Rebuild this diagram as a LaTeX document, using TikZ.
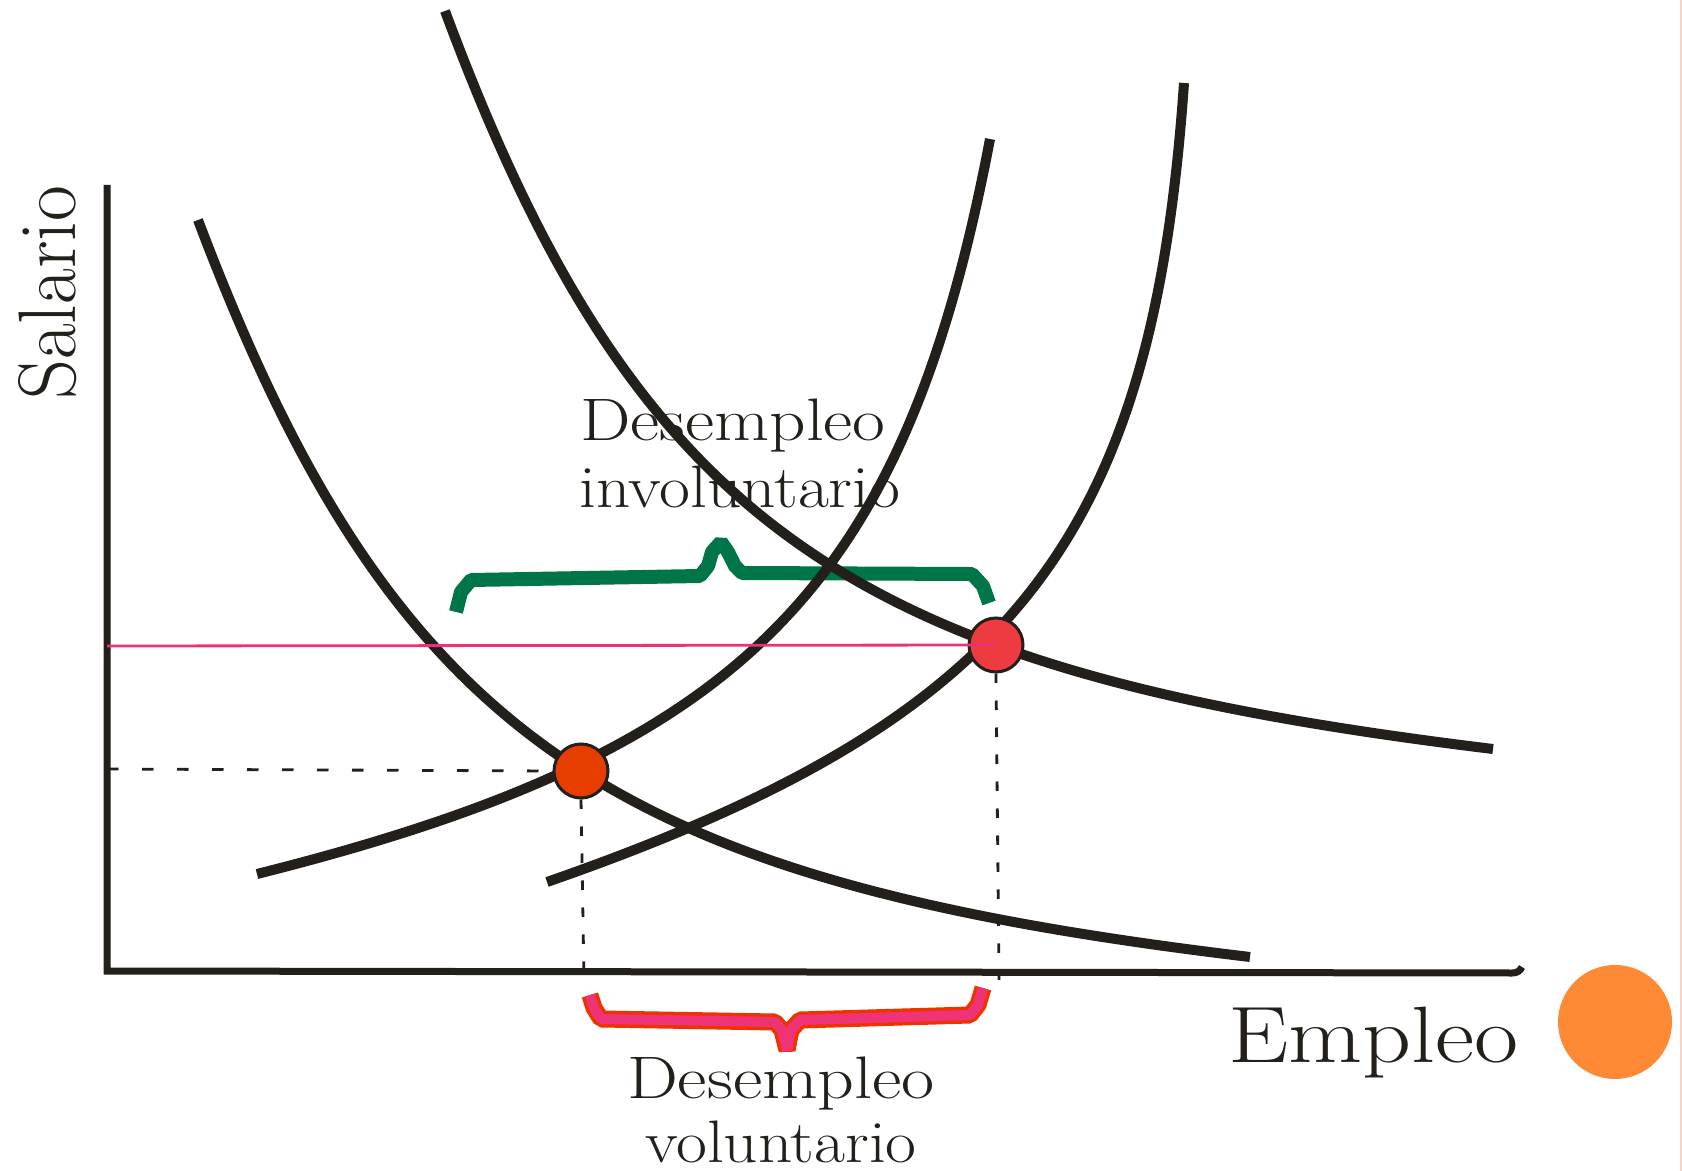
\documentclass[tikz,border=0pt]{standalone}
\usepackage{fontspec}
\usepackage{graphicx}
\definecolor{ink}{HTML}{231F1B}
\definecolor{gbr}{HTML}{007548}
\definecolor{rout}{HTML}{EE3300}
\definecolor{rin}{HTML}{EE3377}
\definecolor{pinkln}{HTML}{E8337A}
\definecolor{dotone}{HTML}{E83D00}
\definecolor{dottwo}{HTML}{EE3B42}
\definecolor{orng}{HTML}{FF8A36}
\definecolor{edge}{HTML}{F5D3CC}
\newcommand{\lblfont}{\addfontfeatures{FakeBold=0.4}}
\begin{document}
\begin{tikzpicture}[x=0.5pt,y=-0.5pt,
  crv/.style={draw=ink, line width=5pt},
  axisln/.style={draw=ink, line width=3.5pt},
  dshh/.style={draw=ink, line width=1.4pt, dash pattern=on 5.75pt off 11.75pt},
  dshv/.style={draw=ink, line width=1.4pt, dash pattern=on 4.75pt off 8.75pt},
  eqdot/.style={circle, draw=ink, line width=1.5pt, minimum size=27pt, inner sep=0pt},
  gbrace/.style={draw=gbr, line width=7pt, line join=bevel},
  rbrace/.style={draw=rin, line width=5pt, line join=bevel, preaction={draw=rout, line width=8.5pt, line join=bevel}},
  lbl/.style={inner sep=0pt, text=ink},
]
\useasboundingbox (0,0) rectangle (1682,1171);
\fill[white] (0,0) rectangle (1682,1171);
\draw[edge, line width=1pt] (1681,0) -- (1681,1171);

% braces (under curves)
\draw[gbrace] (456,612) -- (461,592) -- (471,580) -- (700,576) -- (708,566) -- (712,552) -- (721,542) -- (728,552) -- (735,566) -- (742,573) -- (972,574) -- (983,586) -- (989,603);
\draw[rbrace] (590,995) -- (594,1008) -- (601,1019) -- (775,1022) -- (782,1030) -- (787,1050) -- (791,1030) -- (800,1020) -- (970,1015) -- (978,1005) -- (983,988);

% axes
\coordinate (ytop) at (107,185);
\coordinate (orig) at (107,971);
\coordinate (xend) at (1522,967);
\draw[axisln] (ytop) -- (orig) -- (1512,973) .. controls (1517,973) and (1520,971) .. (xend);

% curves: two demand, two supply
\draw[crv] (198,220) .. controls (396,744) and (614,881) .. (1250,957);
\draw[crv] (445,11) .. controls (641,538) and (861,672) .. (1493,749);
\draw[crv] (257,874) .. controls (743,752) and (904,591) .. (990,139);
\draw[crv] (547,882) .. controls (1012,720) and (1152,544) .. (1184,83);

% equilibrium dots
\node[eqdot, fill=dotone] (e1) at (581,771) {};
\node[eqdot, fill=dottwo] (e2) at (996,645) {};

% guide lines
\coordinate (wlow) at (107,769);
\coordinate (whigh) at (107,646);
\coordinate (q1) at (584,980);
\coordinate (q2) at (999,980);
\draw[dshh] (wlow) -- (e1.west);
\draw[dshv] (e1.south) -- (q1);
\draw[dshv] (e2.south) -- (q2);
\draw[draw=pinkln, line width=1.4pt] (whigh) -- (e2.center);

% labels
\node[lbl, anchor=base west] (inv1) at (580,441) {\fontsize{30pt}{33pt}\selectfont\lblfont\scalebox{1.19}[1]{Desempleo}};
\node[lbl, anchor=base west] (inv2) at (579,508) {\fontsize{30pt}{33pt}\selectfont\lblfont\scalebox{1.12}[1]{involuntario}};
\node[lbl, anchor=base] (vol1) at (781,1098) {\fontsize{30pt}{33pt}\selectfont\lblfont\scalebox{1.2}[1]{Desempleo}};
\node[lbl, anchor=base] (vol2) at (781,1162) {\fontsize{30pt}{33pt}\selectfont\lblfont\scalebox{1.12}[1]{voluntario}};
\node[lbl, anchor=base west] (xlab) at (1228,1062) {\fontsize{40pt}{44pt}\selectfont\lblfont\scalebox{1.2}[1]{Empleo}};
\node[lbl, anchor=base west, rotate=90] (ylab) at (75,400) {\fontsize{34pt}{38pt}\selectfont\lblfont\scalebox{1.145}[1.2]{Salario}};

% orange circle
\node[circle, fill=orng, minimum size=57pt, inner sep=0pt] (oc) at (1615,1022) {};
\end{tikzpicture}
\end{document}
